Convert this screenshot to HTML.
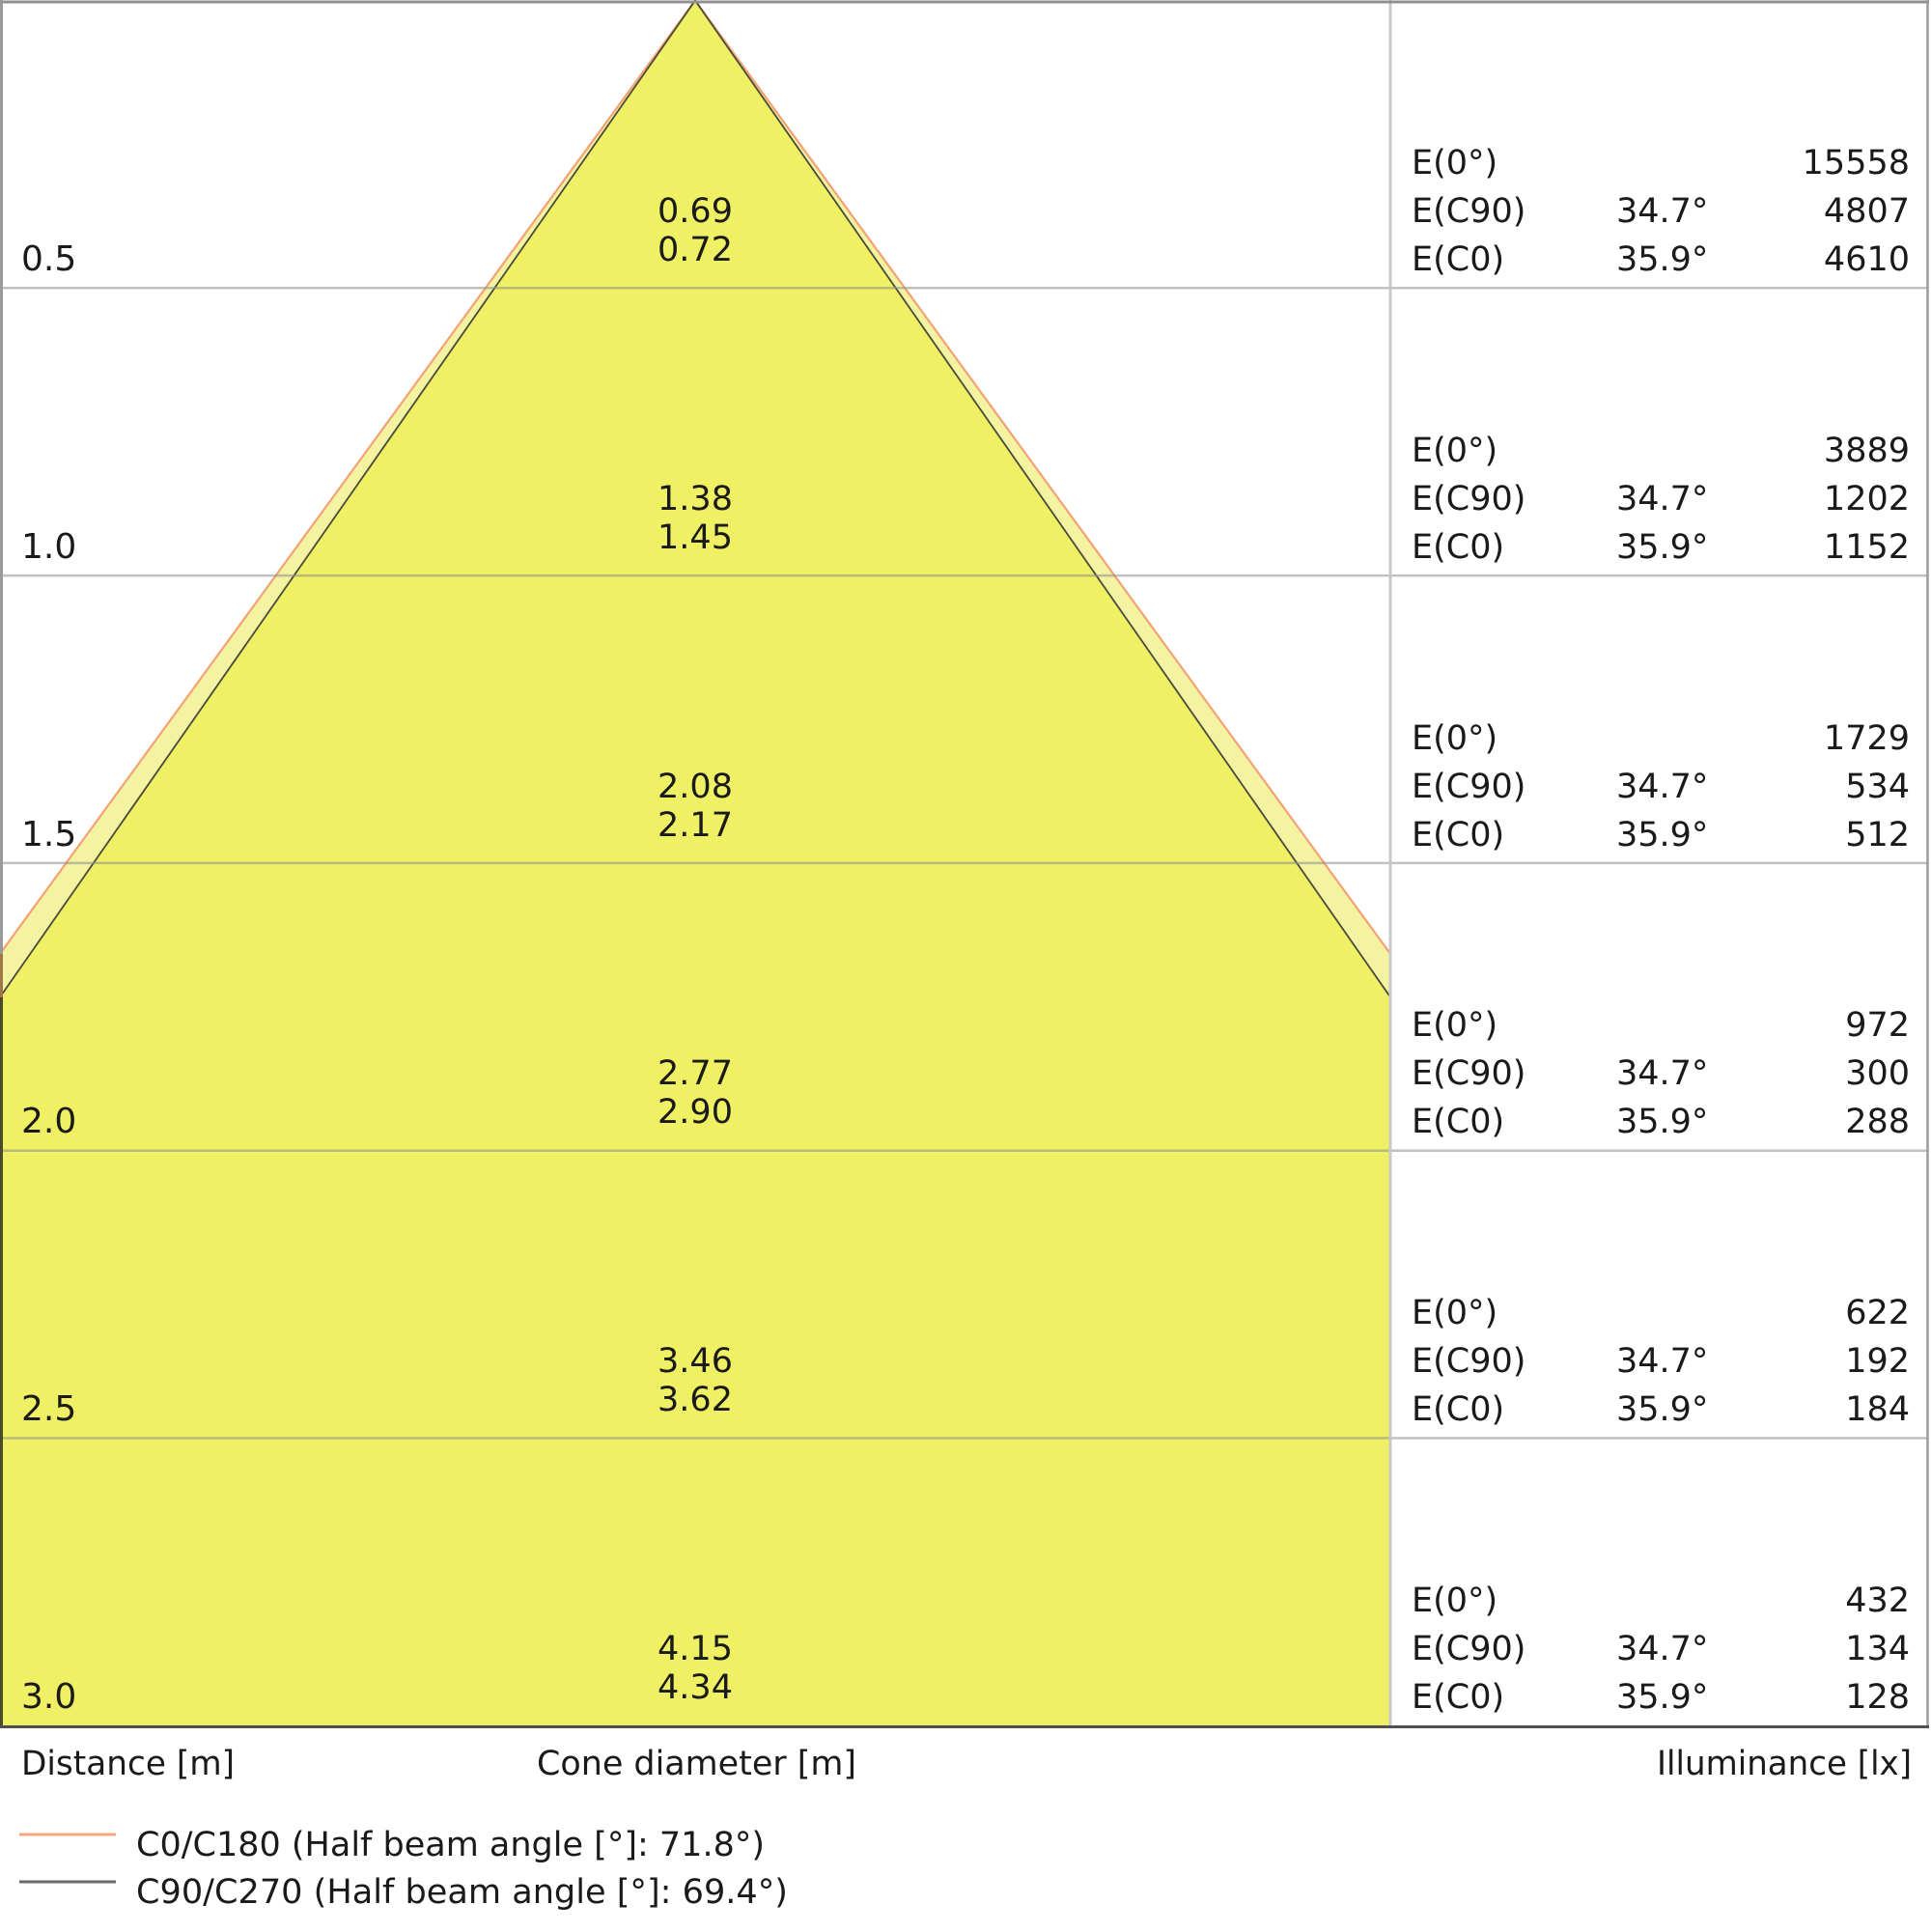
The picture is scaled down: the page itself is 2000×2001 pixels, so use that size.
<!DOCTYPE html>
<html>
<head>
<meta charset="utf-8">
<style>
html,body{margin:0;padding:0;background:#fff;}
svg{display:block;}
text{font-family:"DejaVu Sans","Liberation Sans",sans-serif;fill:#1a1a1a;}
</style>
</head>
<body>
<svg width="2000" height="2001" viewBox="0 0 2000 2001" xmlns="http://www.w3.org/2000/svg">
<rect x="0" y="0" width="2000" height="2001" fill="#ffffff"/>
<!-- cones -->
<polygon points="720,0.5 1440,987.8 1440,1787.3 0,1787.3 0,987.8" fill="#f3f3a2"/>
<polygon points="720,0.5 1440,1032.7 1440,1787.3 0,1787.3 0,1032.7" fill="#eff064"/>
<polyline points="0,987.8 720,0.5 1440,987.8" fill="none" stroke="#f4a274" stroke-width="2.2"/>
<polyline points="0,1032.7 720,0.5 1440,1032.7" fill="none" stroke="#4a4a3a" stroke-width="1.8"/>
<!-- grid lines -->
<g stroke="#8c8c8c" stroke-opacity="0.55" stroke-width="2.5">
<line x1="0" y1="298.3" x2="1997" y2="298.3"/>
<line x1="0" y1="596.1" x2="1997" y2="596.1"/>
<line x1="0" y1="893.9" x2="1997" y2="893.9"/>
<line x1="0" y1="1191.7" x2="1997" y2="1191.7"/>
<line x1="0" y1="1489.5" x2="1997" y2="1489.5"/>
</g>
<line x1="1440" y1="0" x2="1440" y2="1788" stroke="#c9c9c9" stroke-width="3"/>
<!-- borders -->
<line x1="0" y1="2" x2="1998" y2="2" stroke="#8f8f8f" stroke-width="3"/>
<line x1="1996.5" y1="0" x2="1996.5" y2="1789" stroke="#9a9a9a" stroke-width="2.5"/>
<line x1="1.5" y1="0" x2="1.5" y2="988" stroke="#9a9a9a" stroke-width="3"/>
<line x1="1.5" y1="988" x2="1.5" y2="1033" stroke="#a0784a" stroke-width="3"/>
<line x1="1.5" y1="1033" x2="1.5" y2="1789" stroke="#4a4a2a" stroke-width="3"/>
<line x1="0" y1="1788.5" x2="1998" y2="1788.5" stroke="#4f4f4f" stroke-width="3"/>

<!-- left distance labels -->
<g font-size="36">
<text x="22" y="280">0.5</text>
<text x="22" y="578">1.0</text>
<text x="22" y="876">1.5</text>
<text x="22" y="1173">2.0</text>
<text x="22" y="1471">2.5</text>
<text x="22" y="1769">3.0</text>
</g>

<!-- cone diameters -->
<g font-size="35" text-anchor="middle">
<text x="720" y="230">0.69</text><text x="720" y="270">0.72</text>
<text x="720" y="528">1.38</text><text x="720" y="568">1.45</text>
<text x="720" y="826">2.08</text><text x="720" y="866">2.17</text>
<text x="720" y="1123">2.77</text><text x="720" y="1163">2.90</text>
<text x="720" y="1421">3.46</text><text x="720" y="1461">3.62</text>
<text x="720" y="1719">4.15</text><text x="720" y="1759">4.34</text>
</g>

<!-- table -->
<g font-size="35">
<text x="1462" y="180">E(0°)</text><text x="1462" y="230">E(C90)</text><text x="1462" y="280">E(C0)</text>
<text x="1462" y="478">E(0°)</text><text x="1462" y="528">E(C90)</text><text x="1462" y="578">E(C0)</text>
<text x="1462" y="776">E(0°)</text><text x="1462" y="826">E(C90)</text><text x="1462" y="876">E(C0)</text>
<text x="1462" y="1073">E(0°)</text><text x="1462" y="1123">E(C90)</text><text x="1462" y="1173">E(C0)</text>
<text x="1462" y="1371">E(0°)</text><text x="1462" y="1421">E(C90)</text><text x="1462" y="1471">E(C0)</text>
<text x="1462" y="1669">E(0°)</text><text x="1462" y="1719">E(C90)</text><text x="1462" y="1769">E(C0)</text>

<text x="1674" y="230">34.7°</text><text x="1674" y="280">35.9°</text>
<text x="1674" y="528">34.7°</text><text x="1674" y="578">35.9°</text>
<text x="1674" y="826">34.7°</text><text x="1674" y="876">35.9°</text>
<text x="1674" y="1123">34.7°</text><text x="1674" y="1173">35.9°</text>
<text x="1674" y="1421">34.7°</text><text x="1674" y="1471">35.9°</text>
<text x="1674" y="1719">34.7°</text><text x="1674" y="1769">35.9°</text>
</g>
<g font-size="35" text-anchor="end">
<text x="1978" y="180">15558</text><text x="1978" y="230">4807</text><text x="1978" y="280">4610</text>
<text x="1978" y="478">3889</text><text x="1978" y="528">1202</text><text x="1978" y="578">1152</text>
<text x="1978" y="776">1729</text><text x="1978" y="826">534</text><text x="1978" y="876">512</text>
<text x="1978" y="1073">972</text><text x="1978" y="1123">300</text><text x="1978" y="1173">288</text>
<text x="1978" y="1371">622</text><text x="1978" y="1421">192</text><text x="1978" y="1471">184</text>
<text x="1978" y="1669">432</text><text x="1978" y="1719">134</text><text x="1978" y="1769">128</text>
</g>

<!-- axis titles -->
<g font-size="35">
<text x="22" y="1838" textLength="221" lengthAdjust="spacingAndGlyphs">Distance [m]</text>
<text x="556" y="1838" textLength="331" lengthAdjust="spacingAndGlyphs">Cone diameter [m]</text>
<text x="1716" y="1838" textLength="264" lengthAdjust="spacingAndGlyphs">Illuminance [lx]</text>
</g>

<!-- legend -->
<line x1="20" y1="1900" x2="120" y2="1900" stroke="#f5a67a" stroke-width="3"/>
<line x1="20" y1="1949" x2="120" y2="1949" stroke="#6a6a6a" stroke-width="3"/>
<g font-size="35">
<text x="141" y="1922" textLength="651" lengthAdjust="spacingAndGlyphs">C0/C180 (Half beam angle [°]: 71.8°)</text>
<text x="141" y="1971" textLength="675" lengthAdjust="spacingAndGlyphs">C90/C270 (Half beam angle [°]: 69.4°)</text>
</g>
</svg>
</body>
</html>
